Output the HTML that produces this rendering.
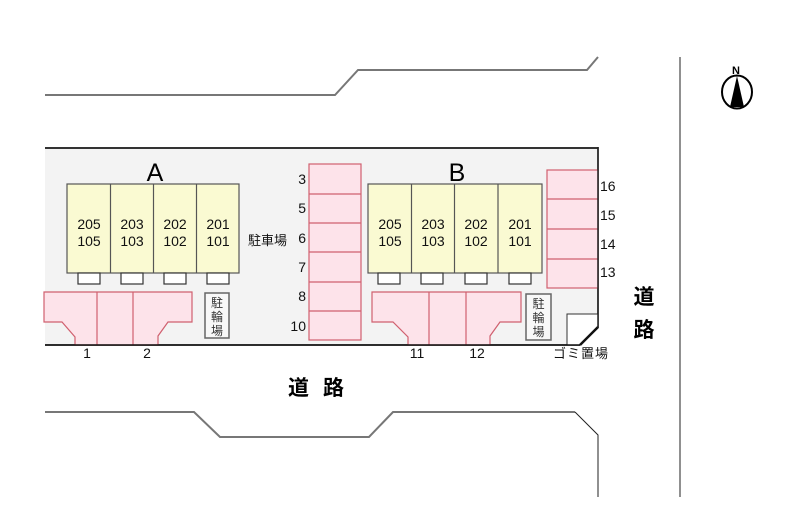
<!DOCTYPE html>
<html><head><meta charset="utf-8">
<style>
html,body{margin:0;padding:0;background:#fff;}
svg{display:block;}
text{font-family:"Liberation Sans","Noto Sans CJK JP",sans-serif;}
</style></head>
<body>
<svg width="786" height="532" viewBox="0 0 786 532" xmlns="http://www.w3.org/2000/svg">
<!-- top road -->
<polyline points="45,95 335,95 358,70 587,70 598,57" fill="none" stroke="#777" stroke-width="2"/>
<!-- right vertical line -->
<line x1="680" y1="57" x2="680" y2="497" stroke="#222" stroke-width="1"/>
<!-- bottom road -->
<polyline points="45,412 194,412 220,437 369,437 393,412 575,412" fill="none" stroke="#777" stroke-width="2"/>
<polyline points="575,412 598,435 598,497" fill="none" stroke="#222" stroke-width="1"/>

<!-- site -->
<polygon points="45,148 598,148 598,328 580,345 45,345" fill="#f3f3f3"/>
<line x1="45" y1="148" x2="598" y2="148" stroke="#333" stroke-width="2"/>
<line x1="598" y1="147" x2="598" y2="328" stroke="#222" stroke-width="1.5"/>
<line x1="45" y1="345" x2="580" y2="345" stroke="#111" stroke-width="1.5"/>

<!-- Gomi -->
<polygon points="567,314 598,314 598,328 580,345 567,345" fill="#fff" stroke="#333" stroke-width="1"/>
<line x1="598" y1="327" x2="580" y2="345" stroke="#111" stroke-width="2.5"/>
<text x="581" y="358" font-size="13" text-anchor="middle" fill="#111" letter-spacing="1">ゴミ置場</text>

<!-- Building A -->
<g stroke="#555" stroke-width="1.2">
<rect x="67" y="184" width="172" height="89" fill="#fafad2"/>
<line x1="110.5" y1="184" x2="110.5" y2="273"/>
<line x1="153.5" y1="184" x2="153.5" y2="273"/>
<line x1="196.5" y1="184" x2="196.5" y2="273"/>
<rect x="78" y="273" width="22" height="11" fill="#fff" stroke="#333"/>
<rect x="121" y="273" width="22" height="11" fill="#fff" stroke="#333"/>
<rect x="164" y="273" width="22" height="11" fill="#fff" stroke="#333"/>
<rect x="207" y="273" width="22" height="11" fill="#fff" stroke="#333"/>
</g>
<g font-size="14" text-anchor="middle" fill="#111">
<text x="89" y="229">205</text><text x="89" y="246">105</text>
<text x="132" y="229">203</text><text x="132" y="246">103</text>
<text x="175" y="229">202</text><text x="175" y="246">102</text>
<text x="218" y="229">201</text><text x="218" y="246">101</text>
</g>
<text x="155" y="181" font-size="25" text-anchor="middle" fill="#000">A</text>

<!-- Building B -->
<g stroke="#555" stroke-width="1.2">
<rect x="368" y="184" width="174" height="89" fill="#fafad2"/>
<line x1="411.5" y1="184" x2="411.5" y2="273"/>
<line x1="454.5" y1="184" x2="454.5" y2="273"/>
<line x1="498" y1="184" x2="498" y2="273"/>
<rect x="378" y="273" width="22" height="11" fill="#fff" stroke="#333"/>
<rect x="421" y="273" width="22" height="11" fill="#fff" stroke="#333"/>
<rect x="465" y="273" width="22" height="11" fill="#fff" stroke="#333"/>
<rect x="509" y="273" width="22" height="11" fill="#fff" stroke="#333"/>
</g>
<g font-size="14" text-anchor="middle" fill="#111">
<text x="390" y="229">205</text><text x="390" y="246">105</text>
<text x="433" y="229">203</text><text x="433" y="246">103</text>
<text x="476" y="229">202</text><text x="476" y="246">102</text>
<text x="520" y="229">201</text><text x="520" y="246">101</text>
</g>
<text x="457" y="181" font-size="25" text-anchor="middle" fill="#000">B</text>

<!-- parking 1,2 -->
<g fill="#fde3ea" stroke="#d0606f" stroke-width="1.2">
<polygon points="44,292 192,292 192,322 168,322 158,336 158,345 75,345 75,337 62,322 44,322"/>
<line x1="97" y1="292" x2="97" y2="345"/>
<line x1="133" y1="292" x2="133" y2="345"/>
</g>
<!-- parking 11,12 -->
<g fill="#fde3ea" stroke="#d0606f" stroke-width="1.2">
<polygon points="372,292 521,292 521,322 500,322 490,336 490,345 408,345 408,337 393,322 372,322"/>
<line x1="429" y1="292" x2="429" y2="345"/>
<line x1="466" y1="292" x2="466" y2="345"/>
</g>
<line x1="45" y1="345" x2="580" y2="345" stroke="#111" stroke-width="1.5"/>

<g font-size="14" text-anchor="middle" fill="#111">
<text x="87" y="358">1</text>
<text x="147" y="358">2</text>
<text x="417" y="358">11</text>
<text x="477" y="358">12</text>
</g>

<!-- parking column 3-10 -->
<g fill="#fde3ea" stroke="#d0606f" stroke-width="1.2">
<rect x="309" y="164" width="52" height="176"/>
<line x1="309" y1="194" x2="361" y2="194"/>
<line x1="309" y1="223" x2="361" y2="223"/>
<line x1="309" y1="252" x2="361" y2="252"/>
<line x1="309" y1="282" x2="361" y2="282"/>
<line x1="309" y1="311" x2="361" y2="311"/>
</g>
<g font-size="14" text-anchor="end" fill="#111">
<text x="306" y="184">3</text>
<text x="306" y="213">5</text>
<text x="306" y="243">6</text>
<text x="306" y="272">7</text>
<text x="306" y="301">8</text>
<text x="306" y="331">10</text>
</g>
<text x="248" y="245" font-size="13" fill="#111">駐車場</text>

<!-- parking 13-16 -->
<g fill="#fde3ea" stroke="#d0606f" stroke-width="1.2">
<rect x="547" y="170" width="51" height="118"/>
<line x1="547" y1="199" x2="598" y2="199"/>
<line x1="547" y1="229" x2="598" y2="229"/>
<line x1="547" y1="259" x2="598" y2="259"/>
</g>
<line x1="598" y1="147" x2="598" y2="328" stroke="#222" stroke-width="1.5"/>
<g font-size="14" fill="#111">
<text x="600" y="191">16</text>
<text x="600" y="220">15</text>
<text x="600" y="249">14</text>
<text x="600" y="277">13</text>
</g>

<!-- bike parking -->
<rect x="205" y="293" width="24" height="45" fill="#f8f8f8" stroke="#666" stroke-width="1.5"/>
<g font-size="12" text-anchor="middle" fill="#333">
<text x="217" y="307">駐</text><text x="217" y="321">輪</text><text x="217" y="335">場</text>
</g>
<rect x="526" y="294" width="25" height="46" fill="#f8f8f8" stroke="#666" stroke-width="1.5"/>
<g font-size="12" text-anchor="middle" fill="#333">
<text x="538.5" y="308">駐</text><text x="538.5" y="322">輪</text><text x="538.5" y="336">場</text>
</g>

<!-- roads labels -->
<text x="323" y="395" font-size="21" font-weight="bold" text-anchor="middle" fill="#000" letter-spacing="14">道路</text>
<text x="644" y="304" font-size="21" font-weight="bold" text-anchor="middle" fill="#000">道</text>
<text x="644" y="337" font-size="21" font-weight="bold" text-anchor="middle" fill="#000">路</text>

<!-- compass -->
<text x="736" y="74" font-size="11" font-weight="bold" text-anchor="middle" fill="#000">N</text>
<ellipse cx="737" cy="92" rx="15" ry="16.5" fill="#fff" stroke="#000" stroke-width="2"/>
<polygon points="737,76 730,107 744,107" fill="#000"/>
</svg>
</body></html>
